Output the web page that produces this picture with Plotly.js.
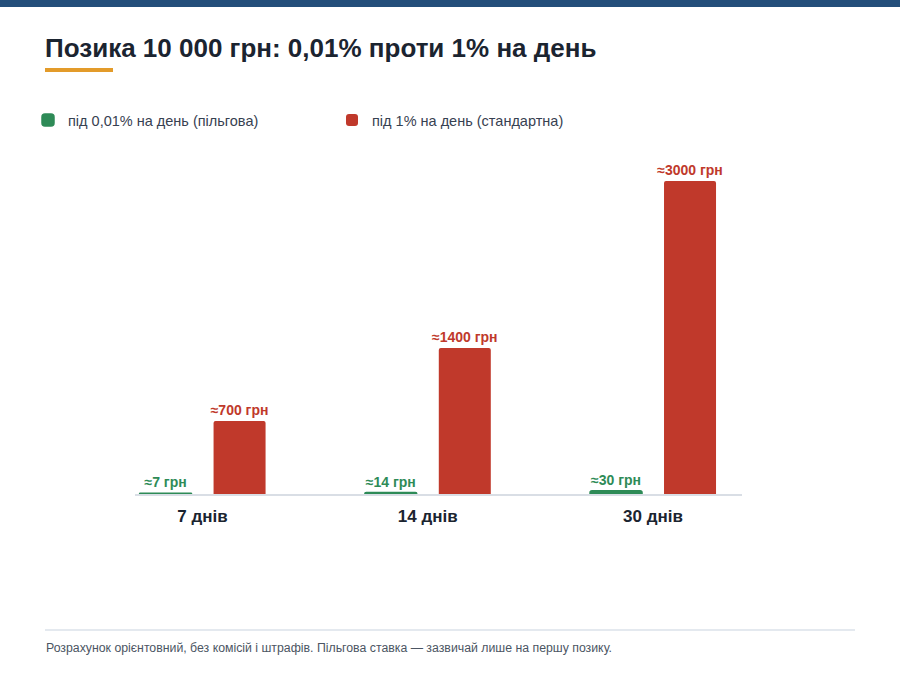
<!DOCTYPE html>
<html>
<head>
<meta charset="utf-8">
<script src="https://cdn.plot.ly/plotly-3.0.1.min.js"></script>
<style>
  html, body { margin: 0; padding: 0; background: #ffffff; }
  #chart { width: 900px; height: 676px; }
</style>
</head>
<body>
<div id="chart"></div>
<script>
const categories = ['7 днів', '14 днів', '30 днів'];
const preferentialValues = [7, 14, 30];
const standardValues = [700, 1400, 3000];
const preferentialLabels = ['≈7 грн', '≈14 грн', '≈30 грн'];
const standardLabels = ['≈700 грн', '≈1400 грн', '≈3000 грн'];
const seriesNames = ['під 0,01% на день (пільгова)', 'під 1% на день (стандартна)'];

const W = 900, H = 676;
const ML = 135, MR = 158, MT = 150, MB = 182;
const plotW = W - ML - MR, plotH = H - MT - MB;
const px = X => (X - ML) / plotW;
const py = Y => (H - MB - Y) / plotH;

const GREEN = '#2e8b57';
const RED = '#c0392b';
const FONT = 'Liberation Sans, Arial, Helvetica, sans-serif';

const traces = [
  {
    type: 'bar', name: seriesNames[0], x: categories, y: preferentialValues,
    legend: 'legend',
    marker: { color: GREEN, line: { color: GREEN, width: 1.5 } },
    text: preferentialLabels, textposition: 'outside', cliponaxis: false,
    constraintext: 'none',
    textfont: { family: FONT, size: 14, color: GREEN, weight: 'bold' },
    hoverinfo: 'skip'
  },
  {
    type: 'bar', name: seriesNames[1], x: categories, y: standardValues,
    legend: 'legend2',
    marker: { color: RED, line: { width: 0 } },
    text: standardLabels, textposition: 'outside', cliponaxis: false,
    constraintext: 'none',
    textfont: { family: FONT, size: 14, color: RED, weight: 'bold' },
    hoverinfo: 'skip'
  }
];

const legendBase = {
  orientation: 'h', xref: 'container', yref: 'container',
  xanchor: 'left', y: 1 - 120 / H, yanchor: 'middle',
  font: { family: FONT, size: 14.5, color: '#374151' },
  bgcolor: 'rgba(0,0,0,0)'
};

const layout = {
  width: W, height: H,
  margin: { l: ML, r: MR, t: MT, b: MB, pad: 0 },
  paper_bgcolor: '#ffffff', plot_bgcolor: '#ffffff',
  font: { family: FONT, color: '#1f2937' },
  barmode: 'group', bargap: 0.343, bargroupgap: 0.297, barcornerradius: 2,
  showlegend: true,
  title: {
    text: '<b>Позика 10 000 грн: 0,01% проти 1% на день</b>',
    x: 45 / W, xref: 'container', xanchor: 'left',
    y: 1 - 48 / H, yref: 'container', yanchor: 'middle',
    font: { family: FONT, size: 26, color: '#1b2430' }
  },
  legend: Object.assign({}, legendBase, { x: 28 / W }),
  legend2: Object.assign({}, legendBase, { x: 332 / W }),
  xaxis: {
    type: 'category', range: [-0.3, 2.395], fixedrange: true,
    showline: true, linecolor: '#d9dee5', linewidth: 2,
    showgrid: false, zeroline: false, ticks: '',
    ticklabelstandoff: 6,
    tickfont: { family: FONT, size: 17, color: '#1b2430', weight: 'bold' }
  },
  yaxis: {
    range: [0, 3000 * plotH / 313], visible: false, fixedrange: true,
    showgrid: false, zeroline: false
  },
  shapes: [
    { type: 'rect', xref: 'paper', yref: 'paper', x0: px(0), x1: px(900), y0: py(0), y1: py(7),
      fillcolor: '#234e7a', line: { width: 0 }, layer: 'above' },
    { type: 'rect', xref: 'paper', yref: 'paper', x0: px(45), x1: px(113), y0: py(68), y1: py(72),
      fillcolor: '#e39b2a', line: { width: 0 } },
    { type: 'line', xref: 'paper', yref: 'paper', x0: px(45), x1: px(855), y0: py(630), y1: py(630),
      line: { color: '#e4e9ef', width: 2 } }
  ],
  annotations: [
    { xref: 'paper', yref: 'paper', x: px(45), y: py(648), xanchor: 'left', yanchor: 'middle',
      xshift: -1, showarrow: false,
      text: 'Розрахунок орієнтовний, без комісій і штрафів. Пільгова ставка — зазвичай лише на першу позику.',
      font: { family: FONT, size: 12.3, color: '#4b5563' } }
  ]
};

Plotly.newPlot('chart', traces, layout, { displayModeBar: false, staticPlot: true });
</script>
</body>
</html>
